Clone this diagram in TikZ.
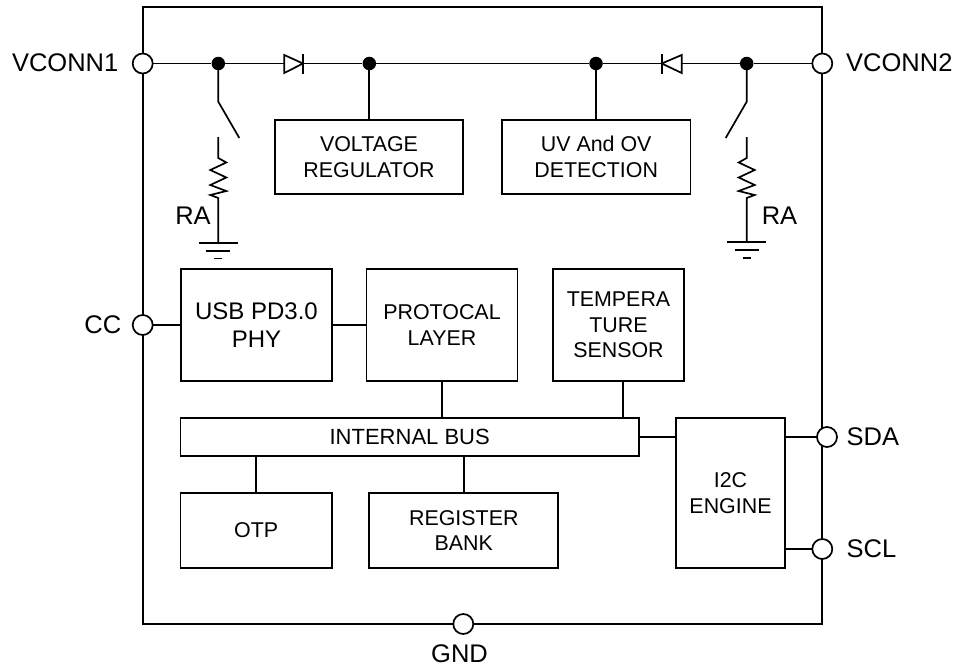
\documentclass[tikz,border=0pt]{standalone}
\usepackage{fontspec}
\setmainfont{Liberation Sans}
\tikzset{
  blockbox/.style={draw, line width=1.7pt, inner sep=0pt, align=center, font=\fontsize{21.4}{25.5}\selectfont},
  pinlabel/.style={inner sep=0pt, font=\fontsize{25.5}{30}\selectfont},
  pindot/.style={circle, draw, fill=white, line width=1.7pt, minimum size=20pt, inner sep=0pt},
  junction/.style={circle, fill=black, minimum size=13.5pt, inner sep=0pt},
  wire/.style={line width=1.7pt}
}
\newcommand{\blockat}[7][]{\node[blockbox, minimum width=#5 pt, minimum height=#6 pt, #1] (#2) at (#3,#4) {#7};}
\begin{document}
\begin{tikzpicture}[x=1pt,y=-1pt]
\useasboundingbox (0,0) rectangle (962,669);
% outer frame
\draw[wire] (142.7,7) rectangle (822.3,624);
% blocks
\blockat{vreg}{369}{157}{188}{74}{VOLTAGE\\REGULATOR}
\blockat{uvov}{596.2}{157}{188.5}{74}{UV And OV\\DETECTION}
\blockat[font=\fontsize{24}{28}\selectfont]{usbphy}{256.5}{325}{151}{112}{USB PD3.0\\PHY}
\blockat{protocal}{442}{325}{151}{112}{PROTOCAL\\LAYER}
\blockat{tempera}{618.5}{325}{131.6}{112}{TEMPERA\\TURE\\SENSOR}
\blockat[font=\fontsize{22}{26}\selectfont]{bus}{409.7}{437}{458.5}{38}{INTERNAL BUS}
\blockat{otp}{256.2}{530.3}{151.5}{74.7}{OTP}
\blockat{regbank}{463.8}{530.3}{189}{74.7}{REGISTER\\BANK}
\blockat{iic}{730.5}{493}{109}{150}{I2C\\ENGINE}
% junctions
\node[junction] (jA) at (218.3,63.5) {};
\node[junction] (jB) at (369.3,63.5) {};
\node[junction] (jC) at (596,63.5) {};
\node[junction] (jD) at (746.7,63.5) {};
\coordinate (dAin) at (284.3,63.5);
\coordinate (dAout) at (303,63.5);
\coordinate (dBin) at (681.7,63.5);
\coordinate (dBout) at (661.7,63.5);
% pins
\coordinate (pinA) at (142.7,63.5);
\coordinate (pinB) at (822.3,63.5);
\draw[wire] (pinA) -- (jA) -- (dAin);
\draw[wire] (dAout) -- (jB) -- (jC) -- (dBout);
\draw[wire] (dBin) -- (jD) -- (pinB);
\draw[wire] (iic.east |- 0,437) -- (827,437);
\draw[wire] (iic.east |- 0,549) -- (822.3,549);
\draw[wire] (142.7,325) -- (usbphy.west);
\node[pindot] (vconnA) at (pinA) {};
\node[pindot] (vconnB) at (pinB) {};
\node[pindot] (ccpin) at (142.7,325) {};
\node[pindot] (sdapin) at (827,437) {};
\node[pindot] (sclpin) at (822.3,549) {};
\node[pindot] (gndpin) at (463.3,624) {};
\node[pinlabel, anchor=east] at (118.5,63) {VCONN1};
\node[pinlabel, anchor=west] at (846,63) {VCONN2};
\node[pinlabel, anchor=east] at (121.5,325) {CC};
\node[pinlabel, anchor=west] at (846.5,437) {SDA};
\node[pinlabel, anchor=west] at (846.5,549) {SCL};
\node[pinlabel] at (459.5,654) {GND};
% diodes
\draw[wire, line join=miter] (284.3,55) -- (303,63.5) -- (284.3,73) -- cycle;
\draw[wire] (303,54.3) -- (303,74);
\draw[wire, line join=miter] (681.7,55) -- (661.7,63.5) -- (681.7,73) -- cycle;
\draw[wire] (661.7,54.3) -- (661.7,74);
\draw[wire] (jB) -- (vreg.north -| jB);
\draw[wire] (jC) -- (uvov.north -| jC);
% switch, resistor and ground, left then right
\foreach \px/\dx/\rax/\gy in {218.3/1/193/243, 746.7/-1/779.5/242.3} {
  \draw[wire] (\px,63.5) -- (\px,101.7) -- (\px+21*\dx,138);
  \draw[wire] (\px,137) -- (\px,158) -- (\px+8*\dx,162.5) -- (\px-8*\dx,170) -- (\px+8*\dx,177.5)
    -- (\px-8*\dx,185) -- (\px+8*\dx,191) -- (\px-8*\dx,195) -- (\px,198) -- (\px,\gy);
  \draw[wire] (\px-19.5,\gy) -- (\px+19.5,\gy);
  \draw[wire] (\px-12,\gy+8) -- (\px+12,\gy+8);
  \draw[wire] (\px-4,\gy+15.5) -- (\px+4,\gy+15.5);
  \node[pinlabel] at (\rax,216) {RA};
}
% connections
\draw[wire] (usbphy) -- (protocal);
\draw[wire] (protocal.south -| 442.3,0) -- (bus.north -| 442.3,0);
\draw[wire] (tempera.south -| 623.3,0) -- (bus.north -| 623.3,0);
\draw[wire] (bus.south -| 256,0) -- (otp.north -| 256,0);
\draw[wire] (bus.south -| 464,0) -- (regbank.north -| 464,0);
\draw[wire] (bus.east) -- (iic.west |- bus.east);
\end{tikzpicture}
\end{document}
